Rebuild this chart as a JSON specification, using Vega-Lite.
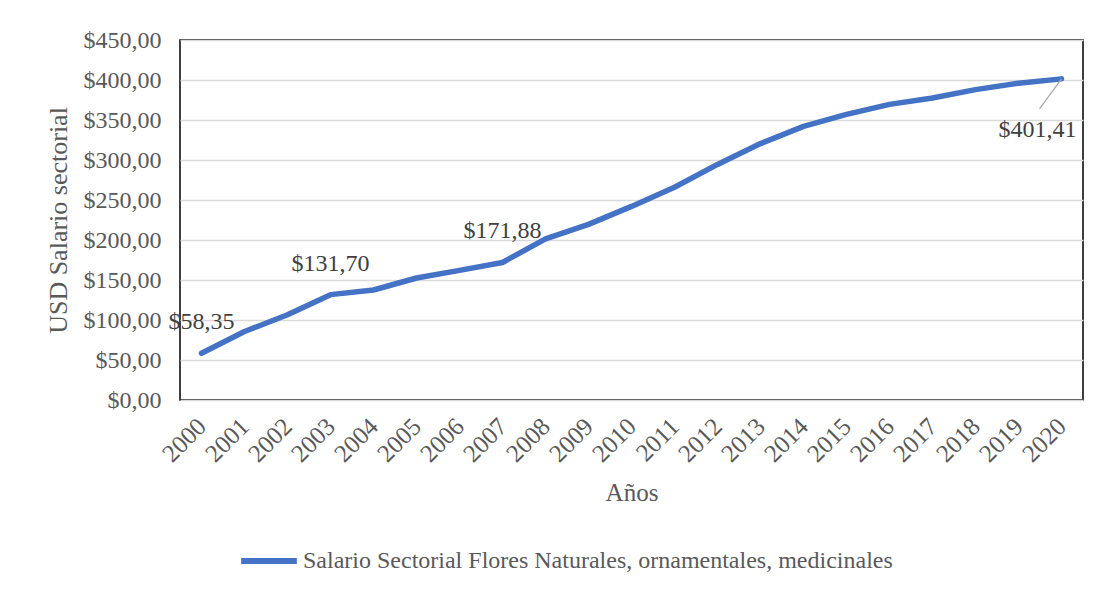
{
  "$schema": "https://vega.github.io/schema/vega-lite/v6.json",
  "width": 903,
  "height": 360,
  "autosize": {"type": "none"},
  "padding": {"left": 180, "top": 40, "right": 16, "bottom": 190},
  "background": "white",
  "config": {
    "font": "Liberation Serif",
    "view": {"stroke": "black", "strokeWidth": 1.5},
    "axis": {"labelFont": "Liberation Serif", "titleFont": "Liberation Serif", "labelColor": "#595959", "titleColor": "#595959", "titleFontWeight": "normal"},
    "legend": {"labelFont": "Liberation Serif"}
  },
  "data": {
    "values": [
      {"year": "2000", "salario": 58.35, "label": "$58,35"},
      {"year": "2001", "salario": 85.6},
      {"year": "2002", "salario": 106.5},
      {"year": "2003", "salario": 131.70, "label": "$131,70"},
      {"year": "2004", "salario": 137.5},
      {"year": "2005", "salario": 152.5},
      {"year": "2006", "salario": 162.0},
      {"year": "2007", "salario": 171.88, "label": "$171,88"},
      {"year": "2008", "salario": 201.5},
      {"year": "2009", "salario": 219.5},
      {"year": "2010", "salario": 242.0},
      {"year": "2011", "salario": 266.0},
      {"year": "2012", "salario": 294.5},
      {"year": "2013", "salario": 320.5},
      {"year": "2014", "salario": 342.0},
      {"year": "2015", "salario": 357.0},
      {"year": "2016", "salario": 369.5},
      {"year": "2017", "salario": 377.5},
      {"year": "2018", "salario": 388.0},
      {"year": "2019", "salario": 396.0},
      {"year": "2020", "salario": 401.41, "label": "$401,41"}
    ]
  },
  "encoding": {
    "x": {
      "field": "year", "type": "ordinal",
      "scale": {"type": "point", "padding": 0.5},
      "axis": {
        "title": "Años", "titleFontSize": 25, "titlePadding": 14,
        "labelAngle": -45, "labelAlign": "right", "labelBaseline": "middle",
        "labelFontSize": 25, "labelPadding": 22, "ticks": false, "domain": false, "grid": false
      }
    },
    "y": {
      "field": "salario", "type": "quantitative",
      "scale": {"domain": [0, 450]},
      "axis": {
        "title": "USD Salario sectorial", "titleFontSize": 26, "titlePadding": 12,
        "values": [0, 50, 100, 150, 200, 250, 300, 350, 400, 450],
        "labelExpr": "'$' + replace(format(datum.value, '.2f'), '.', ',')",
        "labelFontSize": 24, "labelPadding": 19, "ticks": false, "domain": false,
        "grid": true, "gridColor": "#d9d9d9", "gridWidth": 1.5
      }
    }
  },
  "layer": [
    {
      "mark": {"type": "line", "strokeWidth": 5.5, "strokeCap": "round", "strokeJoin": "round"},
      "encoding": {
        "color": {
          "datum": "Salario Sectorial Flores Naturales, ornamentales, medicinales",
          "scale": {"range": ["#4472C4"]},
          "legend": {
            "title": null, "orient": "none", "legendX": 58, "legendY": 490,
            "symbolType": "stroke", "symbolStrokeWidth": 6, "symbolSize": 3100,
            "labelFont": "Liberation Serif", "labelFontSize": 24, "labelColor": "#595959", "labelOffset": 3, "labelLimit": 1000
          }
        }
      }
    },
    {
      "transform": [{"filter": "datum.label && datum.year != '2020'"}],
      "mark": {"type": "text", "font": "Liberation Serif", "fontSize": 24, "color": "#404040", "align": "center", "baseline": "alphabetic", "dy": -24},
      "encoding": {"text": {"field": "label"}}
    },
    {
      "transform": [{"filter": "datum.year == '2020'"}],
      "mark": {"type": "text", "font": "Liberation Serif", "fontSize": 24, "color": "#404040", "align": "center", "baseline": "alphabetic", "dx": -24, "dy": 58},
      "encoding": {"text": {"field": "label"}}
    },
    {
      "transform": [{"filter": "datum.year == '2020'"}],
      "mark": {"type": "rule", "color": "#a6a6a6", "strokeWidth": 1.2, "x2Offset": -22, "y2Offset": 30},
      "encoding": {
        "x2": {"field": "year"},
        "y2": {"field": "salario"}
      }
    }
  ]
}
